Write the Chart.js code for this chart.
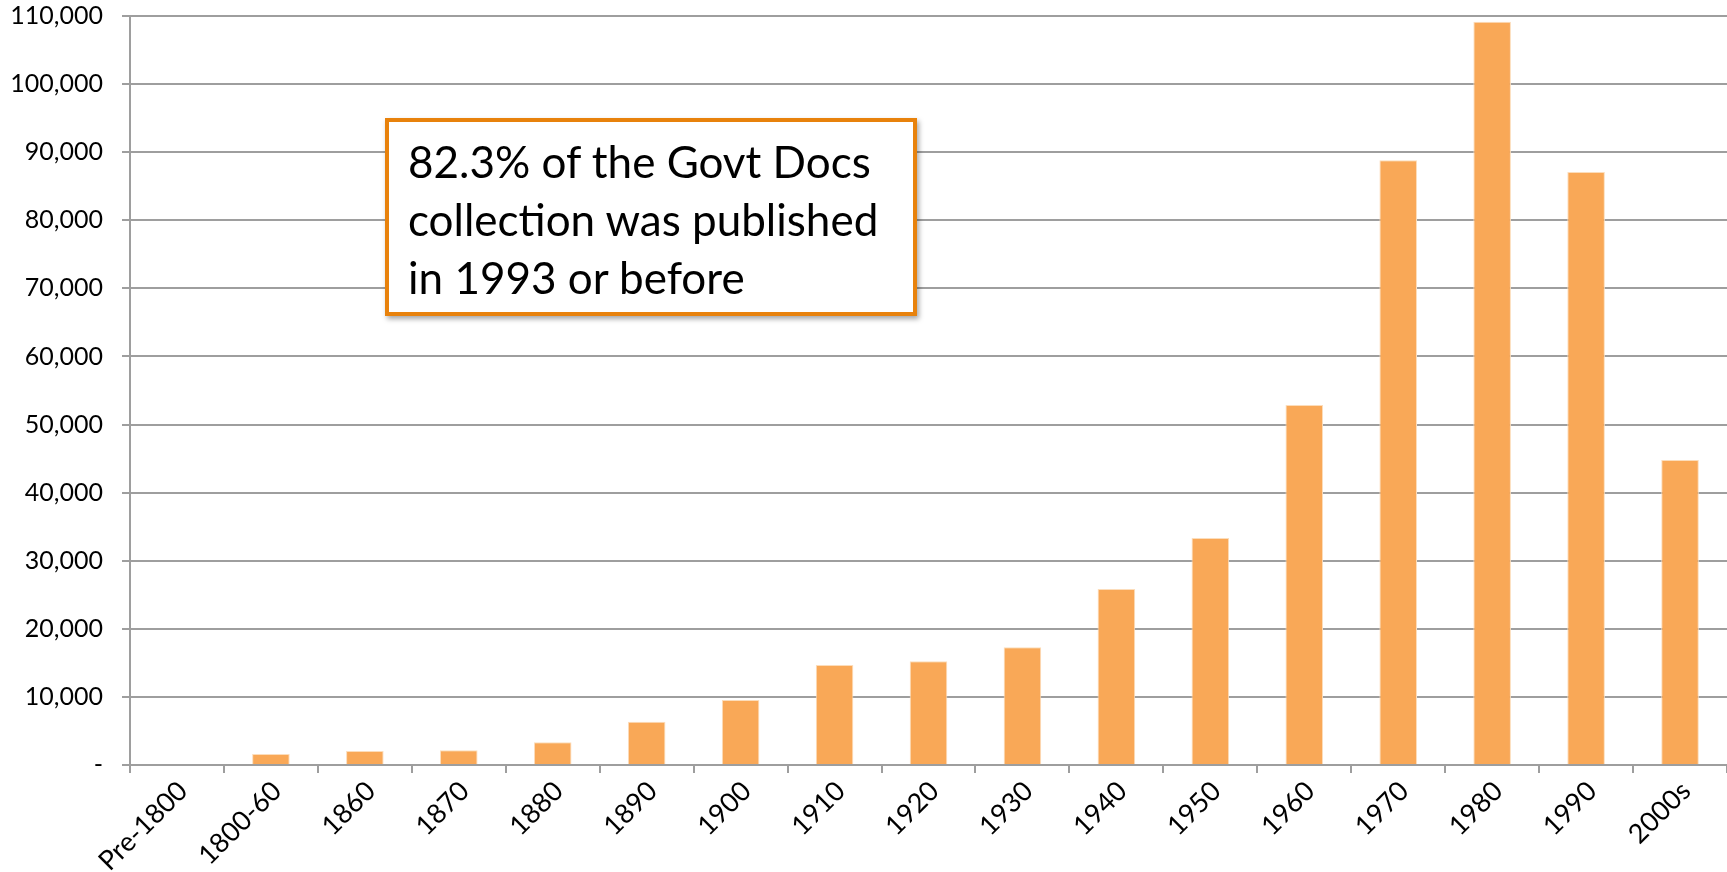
<!DOCTYPE html>
<html>
<head>
<meta charset="utf-8">
<script src="https://cdn.jsdelivr.net/npm/chart.js@4/dist/chart.umd.min.js"></script>
<style>
  html, body { margin: 0; padding: 0; background: #fff; }
  #wrap { position: relative; width: 1727px; height: 872px; }
  #note {
    position: absolute; left: 385px; top: 118px; width: 532px; height: 198px;
    box-sizing: border-box; border: 4.5px solid #E8820C; background: #fff;
    box-shadow: 2px 3px 5px rgba(0,0,0,0.35);
    font-family: Lato, "Open Sans", sans-serif; font-size: 44px; line-height: 58px;
    color: #000; padding: 10px 0 0 19px; white-space: nowrap;
  }
</style>
</head>
<body>
<div id="wrap">
  <canvas id="c" width="1727" height="872"></canvas>
  <div id="note">82.3% of the Govt Docs<br>collection was published<br>in 1993 or before</div>
</div>
<script>
const categories = ["Pre-1800","1800-60","1860","1870","1880","1890","1900","1910","1920","1930","1940","1950","1960","1970","1980","1990","2000s"];
const itemCounts = [150, 1620, 2060, 2160, 3330, 6360, 9550, 14680, 15230, 17280, 25840, 33330, 52860, 88800, 109150, 87080, 44790];
const yTickMin = 0;
const yTickMax = 110000;
const yTickStep = 10000;

const gridColor = '#9E9E9E';
new Chart(document.getElementById('c'), {
  type: 'bar',
  data: {
    labels: categories,
    datasets: [{
      data: itemCounts,
      backgroundColor: '#F9A857',
      borderColor: '#FCDDBB',
      borderWidth: 1,
      barPercentage: 0.4,
      categoryPercentage: 1.0
    }]
  },
  options: {
    responsive: false,
    animation: false,
    layout: { padding: { top: 16, right: 0, left: 0, bottom: 0 } },
    plugins: { legend: { display: false }, tooltip: { enabled: false } },
    scales: {
      x: {
        offset: true,
        grid: { offset: true, drawOnChartArea: false, drawTicks: true, tickLength: 8, color: gridColor, lineWidth: 2 },
        border: { color: gridColor, width: 2 },
        ticks: {
          minRotation: 45, maxRotation: 45, autoSkip: false, padding: 2, labelOffset: 6,
          color: '#000', font: { family: 'Lato, "Open Sans", sans-serif', size: 27 }
        },
        afterFit: (s) => { s.height = 107; s.paddingLeft = 0; s.paddingRight = 0; }
      },
      y: {
        min: yTickMin, max: yTickMax,
        grid: { color: gridColor, lineWidth: 2, tickLength: 8 },
        border: { color: gridColor, width: 2 },
        ticks: {
          stepSize: yTickStep, padding: 19, color: '#000',
          font: { family: 'Lato, "Open Sans", sans-serif', size: 25 },
          callback: (v) => v === 0 ? '-' : v.toLocaleString('en-US')
        },
        afterFit: (s) => { s.width = 130; s.paddingTop = 0; s.paddingBottom = 0; }
      }
    }
  }
});
</script>
</body>
</html>
